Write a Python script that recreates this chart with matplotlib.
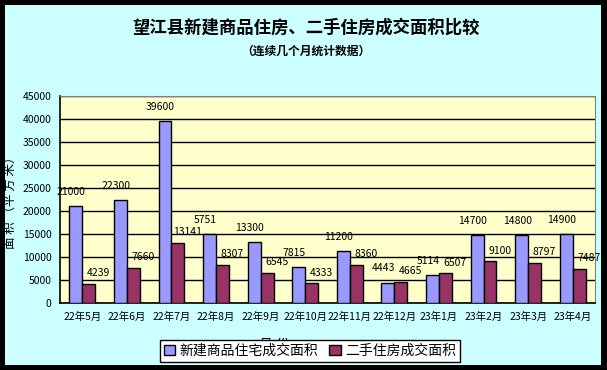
import numpy as np
import matplotlib.pyplot as plt
from matplotlib.patches import Rectangle

plt.rcParams['font.family'] = ['Noto Sans CJK SC', 'DejaVu Sans']

# data
months = ["22年5月", "22年6月", "22年7月", "22年8月", "22年9月", "22年10月",
          "22年11月", "22年12月", "23年1月", "23年2月", "23年3月", "23年4月"]
new_area = [21000, 22300, 39600, 15000, 13300, 7815, 11200, 4443, 6100, 14700, 14800, 14900]
old_area = [4239, 7660, 13141, 8307, 6545, 4333, 8360, 4665, 6507, 9100, 8797, 7487]
new_labels = ["21000", "22300", "39600", "5751", "13300", "7815",
              "11200", "4443", "5114", "14700", "14800", "14900"]
old_labels = ["4239", "7660", "13141", "8307", "6545", "4333",
              "8360", "4665", "6507", "9100", "8797", "7487"]
yticks = [0, 5000, 10000, 15000, 20000, 25000, 30000, 35000, 40000, 45000]

W, H = 607, 370
fig = plt.figure(figsize=(W / 100, H / 100), dpi=100)
fig.patch.set_facecolor("black")
fig.add_artist(Rectangle((5 / W, 1 - 365 / H), 596 / W, 360 / H,
                         transform=fig.transFigure, facecolor="#CCFFFF",
                         edgecolor="none", zorder=0))

ax = fig.add_axes([60 / W, 1 - 303 / H, 535 / W, 207 / H])
ax.set_facecolor("#FFFFCC")

x = np.arange(len(months))
bw = 0.29
ax.bar(x - bw / 2, new_area, bw, color="#9999FF", edgecolor="black", linewidth=1,
       label="新建商品住宅成交面积", zorder=3)
ax.bar(x + bw / 2, old_area, bw, color="#993366", edgecolor="black", linewidth=1,
       label="二手住房成交面积", zorder=3)

for i in range(len(months)):
    ax.text(x[i] - bw / 2 - 0.1, new_area[i] + 2000, new_labels[i], ha="center",
            va="bottom", fontsize=7.5, zorder=4)
    ax.text(x[i] + bw / 2 + 0.22, old_area[i] + 1200, old_labels[i], ha="center",
            va="bottom", fontsize=7.5, zorder=4)

ax.set_xlim(-0.5, len(months) - 0.5)
ax.set_ylim(0, 45000)
ax.set_yticks(yticks)
ax.set_yticklabels([str(v) for v in yticks], fontsize=7.5)
ax.set_xticks(x)
ax.set_xticklabels(months, fontsize=7.5)
ax.tick_params(length=0, pad=6)
ax.yaxis.grid(True, color="black", linewidth=1)
ax.set_axisbelow(True)
for s in ["left", "bottom"]:
    ax.spines[s].set_color("black")
    ax.spines[s].set_linewidth(1.2)
for s in ["top", "right"]:
    ax.spines[s].set_color("#808080")

ax.set_ylabel("面 积 （平 方 米）", fontsize=9)
ax.yaxis.set_label_coords(-0.08, 0.5)
ax.set_xlabel("月 份", fontsize=10)
ax.xaxis.set_label_coords(0.4, -0.17)

fig.text(306 / W, 1 - 28 / H, "望江县新建商品住房、二手住房成交面积比较",
         ha="center", va="center", fontsize=12.5, fontweight="bold")
fig.text(306 / W, 1 - 51 / H, "（连续几个月统计数据）",
         ha="center", va="center", fontsize=8.5, fontweight="bold")

leg = fig.legend(loc="center", bbox_to_anchor=(310 / W, 1 - 351 / H), ncol=2,
                 fontsize=10, frameon=True, fancybox=False, edgecolor="black",
                 handlelength=0.8, handleheight=0.8, handletextpad=0.3,
                 columnspacing=0.8, borderpad=0.3)
leg.get_frame().set_facecolor("white")
leg.get_frame().set_alpha(1)
leg.set_zorder(10)

fig.savefig("out.png", dpi=100, facecolor=fig.get_facecolor())
